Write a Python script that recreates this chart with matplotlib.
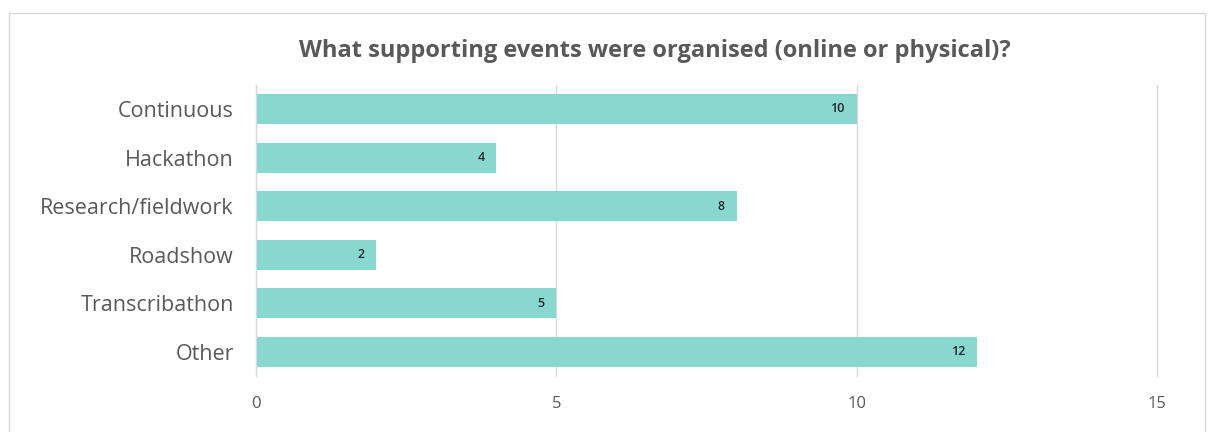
import matplotlib.pyplot as plt
from matplotlib.patches import Rectangle

plt.rcParams['font.family'] = ['Open Sans', 'DejaVu Sans']

# Data
categories = ["Continuous", "Hackathon", "Research/fieldwork", "Roadshow", "Transcribathon", "Other"]
values = [10, 4, 8, 2, 5, 12]
x_ticks = [0, 5, 10, 15]

bar_color = "#88d8d0"
text_color = "#595959"
grid_color = "#d9d9d9"

fig = plt.figure(figsize=(12.08, 4.32), dpi=100)
ax = fig.add_axes([0.212, 0.129, 0.746, 0.675])

y = list(range(len(categories)))
ax.barh(y, values, height=0.62, color=bar_color, zorder=2)
for yi, v in zip(y, values):
    ax.text(v - 0.2, yi, str(v), ha="right", va="center", fontsize=9,
            fontweight="semibold", color="#262626", zorder=3)

ax.set_yticks(y)
ax.set_yticklabels(categories, fontsize=15.5, color=text_color)
ax.set_ylim(len(categories) - 0.5, -0.5)
ax.set_xlim(0, 15)
ax.set_xticks(x_ticks)
ax.set_xticklabels([str(t) for t in x_ticks], fontsize=12, color=text_color)
ax.tick_params(axis="both", length=0)
ax.tick_params(axis="x", pad=14)
ax.tick_params(axis="y", pad=16)
ax.grid(axis="x", color=grid_color, linewidth=1, zorder=0)
for gl in ax.get_xgridlines():
    gl.set_clip_on(False)
for s in ["top", "right", "bottom"]:
    ax.spines[s].set_visible(False)
ax.spines["left"].set_color(grid_color)

fig.text(0.542, 0.883, "What supporting events were organised (online or physical)?",
         ha="center", va="center", fontsize=17, fontweight="bold", color=text_color)

fig.patches.append(Rectangle((0.0075, -0.05), 0.99, 1.02, transform=fig.transFigure,
                             fill=False, edgecolor="#d9d9d9", linewidth=1))

fig.savefig("out.png", dpi=100)
